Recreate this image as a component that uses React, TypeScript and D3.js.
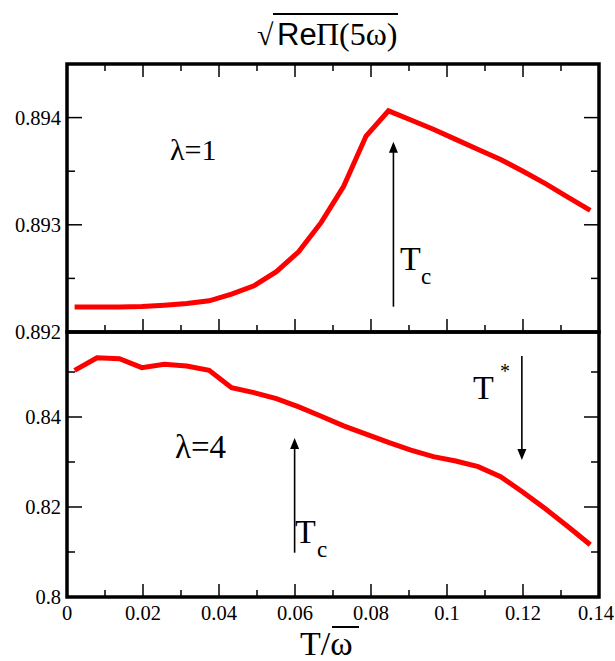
import React from "react";
import * as d3 from "d3";

// ---- data ----
const T = [0.002, 0.0079, 0.0138, 0.0197, 0.0256, 0.0315, 0.0374, 0.0433, 0.0492, 0.0551, 0.061, 0.0669, 0.0728, 0.0787, 0.0846, 0.0905, 0.0964, 0.1023, 0.1082, 0.1141, 0.12, 0.1259, 0.1318, 0.1377];
const LAMBDA1 = [0.892234, 0.892234, 0.892234, 0.892238, 0.89225, 0.892266, 0.892291, 0.892353, 0.892431, 0.892563, 0.89275, 0.893022, 0.893359, 0.893828, 0.894063, 0.893978, 0.893891, 0.893797, 0.893703, 0.893609, 0.8935, 0.893384, 0.893259, 0.893134];
const LAMBDA4 = [0.85037, 0.85317, 0.85295, 0.85096, 0.8517, 0.85133, 0.85037, 0.84653, 0.84542, 0.8441, 0.84225, 0.84018, 0.83804, 0.8362, 0.83435, 0.83266, 0.83118, 0.83022, 0.82897, 0.82675, 0.82328, 0.81959, 0.81568, 0.81162];

const X_MAJOR = [0, 0.02, 0.04, 0.06, 0.08, 0.1, 0.12, 0.14];
const X_LABELS = ["0", "0.02", "0.04", "0.06", "0.08", "0.1", "0.12", "0.14"];
const X_MINOR = [0.01, 0.03, 0.05, 0.07, 0.09, 0.11, 0.13];

const YT_MAJOR = [0.892, 0.893, 0.894];
const YT_LABELS = ["0.892", "0.893", "0.894"];
const YT_MINOR = [0.8925, 0.8935];

const YB_MAJOR = [0.8, 0.82, 0.84];
const YB_LABELS = ["0.8", "0.82", "0.84"];
const YB_MINOR = [0.81, 0.83, 0.85];

// arrows: [x, from, to]
const ARROW_TOP_TC = [0.0859, 0.892236, 0.893775];
const ARROW_BOT_TC = [0.0599, 0.80984, 0.83533];
const ARROW_BOT_TSTAR = [0.1197, 0.85356, 0.83044];

const W = 615, H = 661;
const L = 67, R = 599, TOP = 64, MID = 332, BOT = 597;

const SERIF = "'Liberation Serif', 'Times New Roman', serif";
const SANS = "'Liberation Sans', Arial, sans-serif";

function Arrow({ x, y0, y1 }: { x: number; y0: number; y1: number }) {
  const dir = y1 < y0 ? 1 : -1;
  const hl = 11, hw = 4.5;
  return (
    <g>
      <line x1={x} y1={y0} x2={x} y2={y1 + dir * hl * 0.6} stroke="#000" strokeWidth={1.6} />
      <path d={`M${x},${y1} L${x - hw},${y1 + dir * hl} L${x + hw},${y1 + dir * hl} Z`} fill="#000" />
    </g>
  );
}

export default function App() {
  const x = d3.scaleLinear().domain([0, 0.14]).range([L, R]);
  const yT = d3.scaleLinear().domain([0.892, 0.8945]).range([MID, TOP]);
  const yB = d3.scaleLinear().domain([0.8, 0.86]).range([BOT, 327]);

  const lineT = d3.line<number>().x((_, i) => x(T[i])).y((d) => yT(d));
  const lineB = d3.line<number>().x((_, i) => x(T[i])).y((d) => yB(d));

  const xMaj = 13, xMin = 7, yMaj = 15, yMin = 8;
  const tickStyle = { stroke: "#000", strokeWidth: 1.5 };

  return (
    <svg width={W} height={H} style={{ position: "absolute", left: 0, top: 0, background: "#fff" }}>
      <rect x={0} y={0} width={W} height={H} fill="#fff" />
      {X_MAJOR.map((v, i) => (
        <g key={"xm" + i}>
          <line x1={x(v)} x2={x(v)} y1={TOP} y2={TOP + xMaj} {...tickStyle} />
          <line x1={x(v)} x2={x(v)} y1={MID} y2={MID - xMaj} {...tickStyle} />
          <line x1={x(v)} x2={x(v)} y1={BOT} y2={BOT - xMaj} {...tickStyle} />
        </g>
      ))}
      {X_MINOR.map((v, i) => (
        <g key={"xn" + i}>
          <line x1={x(v)} x2={x(v)} y1={TOP} y2={TOP + xMin} {...tickStyle} />
          <line x1={x(v)} x2={x(v)} y1={MID} y2={MID - xMin} {...tickStyle} />
          <line x1={x(v)} x2={x(v)} y1={BOT} y2={BOT - xMin} {...tickStyle} />
        </g>
      ))}
      {YT_MAJOR.map((v, i) => (
        <g key={"ytm" + i}>
          <line x1={L} x2={L + yMaj} y1={yT(v)} y2={yT(v)} {...tickStyle} />
          <line x1={R} x2={R - yMaj} y1={yT(v)} y2={yT(v)} {...tickStyle} />
        </g>
      ))}
      {YT_MINOR.map((v, i) => (
        <g key={"ytn" + i}>
          <line x1={L} x2={L + yMin} y1={yT(v)} y2={yT(v)} {...tickStyle} />
          <line x1={R} x2={R - yMin} y1={yT(v)} y2={yT(v)} {...tickStyle} />
        </g>
      ))}
      {YB_MAJOR.map((v, i) => (
        <g key={"ybm" + i}>
          <line x1={L} x2={L + yMaj} y1={yB(v)} y2={yB(v)} {...tickStyle} />
          <line x1={R} x2={R - yMaj} y1={yB(v)} y2={yB(v)} {...tickStyle} />
        </g>
      ))}
      {YB_MINOR.map((v, i) => (
        <g key={"ybn" + i}>
          <line x1={L} x2={L + yMin} y1={yB(v)} y2={yB(v)} {...tickStyle} />
          <line x1={R} x2={R - yMin} y1={yB(v)} y2={yB(v)} {...tickStyle} />
        </g>
      ))}

      <path d={lineT(LAMBDA1) || ""} fill="none" stroke="#ff0000" strokeWidth={5} />
      <path d={lineB(LAMBDA4) || ""} fill="none" stroke="#ff0000" strokeWidth={5} />

      <rect x={L} y={TOP} width={R - L} height={MID - TOP} fill="none" stroke="#000" strokeWidth={3.5} />
      <rect x={L} y={MID} width={R - L} height={BOT - MID} fill="none" stroke="#000" strokeWidth={3.5} />

      <g fontFamily={SERIF} fontSize={20.5} fill="#000">
        {YT_MAJOR.map((v, i) => (
          <text key={"ytl" + i} x={L - 6} y={yT(v)} dy="0.35em" textAnchor="end">{YT_LABELS[i]}</text>
        ))}
        {YB_MAJOR.map((v, i) => (
          <text key={"ybl" + i} x={L - 6} y={yB(v)} dy="0.35em" textAnchor="end">{YB_LABELS[i]}</text>
        ))}
        {X_MAJOR.map((v, i) => (
          <text key={"xl" + i} x={Math.min(x(v), W - 19)} y={620} textAnchor="middle">{X_LABELS[i]}</text>
        ))}
      </g>

      <Arrow x={x(ARROW_TOP_TC[0])} y0={yT(ARROW_TOP_TC[1])} y1={yT(ARROW_TOP_TC[2])} />
      <Arrow x={x(ARROW_BOT_TC[0])} y0={yB(ARROW_BOT_TC[1])} y1={yB(ARROW_BOT_TC[2])} />
      <Arrow x={x(ARROW_BOT_TSTAR[0])} y0={yB(ARROW_BOT_TSTAR[1])} y1={yB(ARROW_BOT_TSTAR[2])} />

      <g fontFamily={SERIF} fill="#000">
        <text x={170} y={160} fontSize={30}>λ=1</text>
        <text x={175} y={458} fontSize={33}>λ=4</text>
        <text x={400} y={270} fontSize={34}>T</text>
        <text x={421} y={284} fontSize={23}>c</text>
        <text x={295} y={543} fontSize={34}>T</text>
        <text x={317} y={557} fontSize={23}>c</text>
        <text x={473} y={399} fontSize={34}>T</text>
        <text x={500} y={378} fontSize={20}>*</text>
      </g>

      <g fill="#000">
        <text x={257} y={45} fontFamily={SERIF} fontSize={30}>√</text>
        <text x={277} y={45} fontFamily={SANS} fontSize={31}>Re</text>
        <text x={316} y={45} fontFamily={SERIF} fontSize={32}>Π(5ω)</text>
        <line x1={273} x2={398} y1={14} y2={14} stroke="#000" strokeWidth={2} />
      </g>

      <g fill="#000" fontFamily={SERIF}>
        <text x={300} y={655} fontSize={34}>T/ω</text>
        <line x1={332} x2={359} y1={627} y2={627} stroke="#000" strokeWidth={2} />
      </g>
    </svg>
  );
}
